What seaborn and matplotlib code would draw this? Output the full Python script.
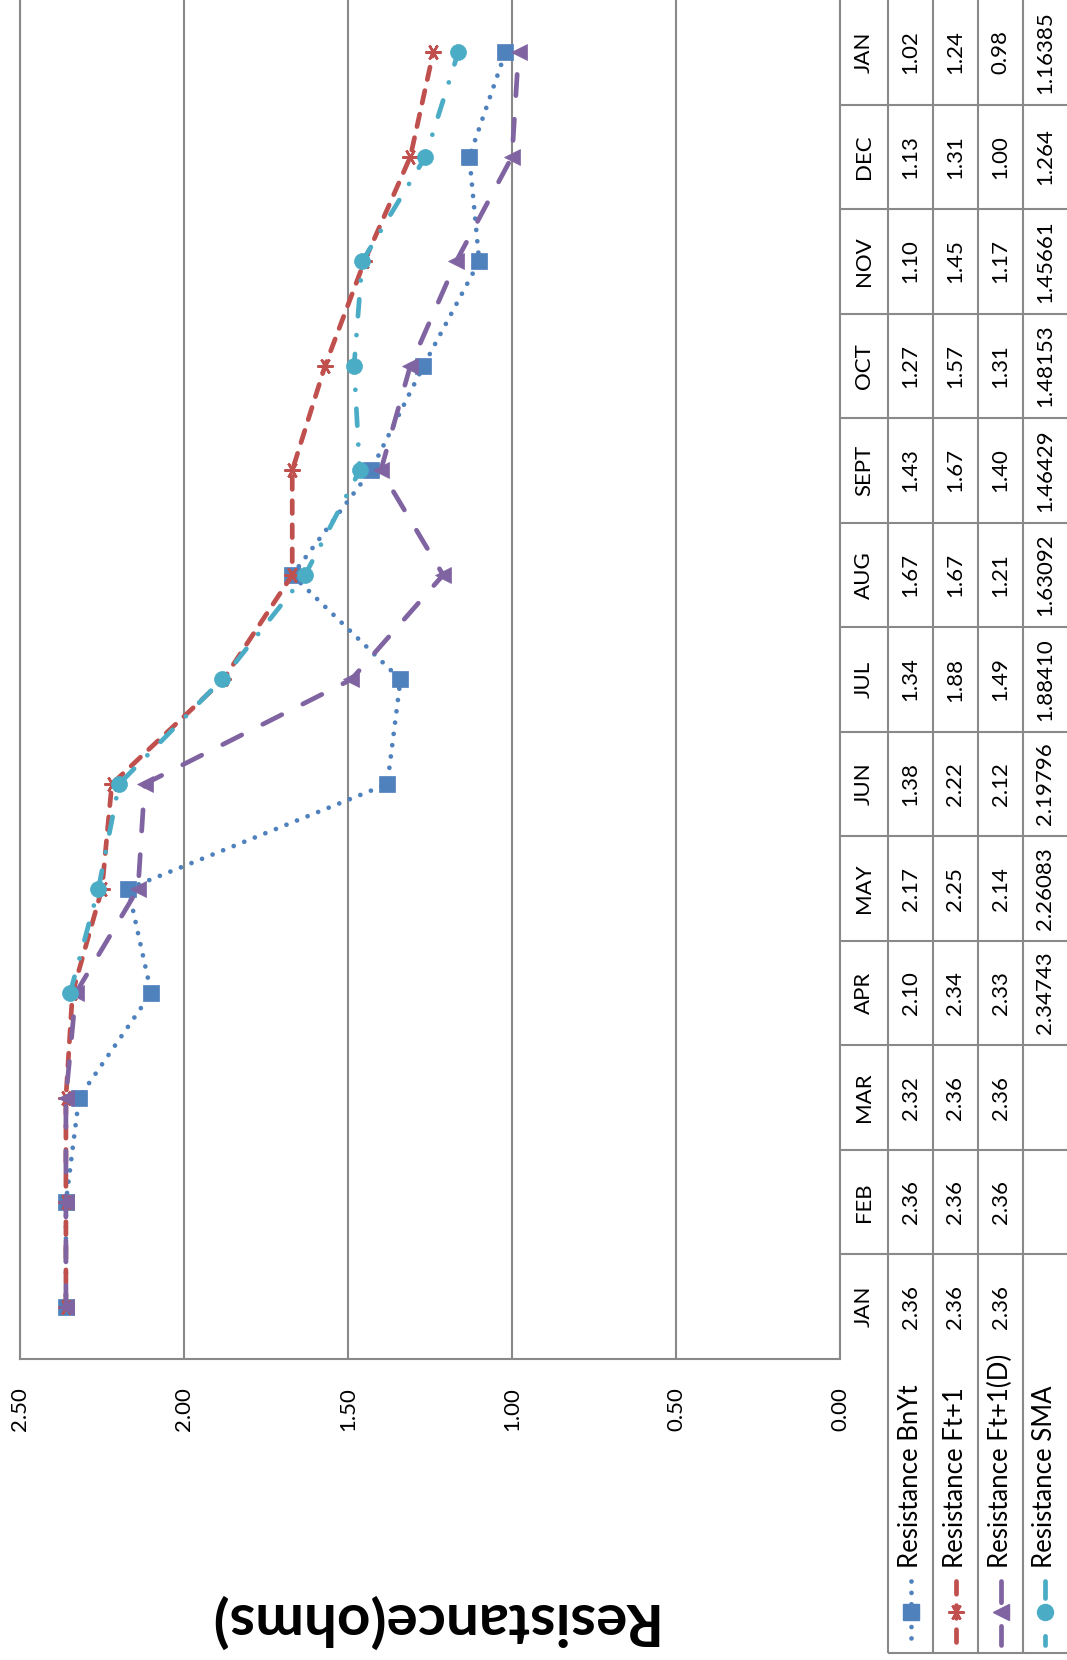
import numpy as np
import pandas as pd
import matplotlib
matplotlib.use("Agg")
import matplotlib.pyplot as plt
import seaborn as sns

# ---- data -------------------------------------------------------------
months = ["JAN", "FEB", "MAR", "APR", "MAY", "JUN", "JUL",
          "AUG", "SEPT", "OCT", "NOV", "DEC", "JAN"]
bnyt = [2.36, 2.36, 2.32, 2.10, 2.17, 1.38, 1.34, 1.67, 1.43, 1.27, 1.10, 1.13, 1.02]
ft1 = [2.36, 2.36, 2.36, 2.34, 2.25, 2.22, 1.88, 1.67, 1.67, 1.57, 1.45, 1.31, 1.24]
ft1d = [2.36, 2.36, 2.36, 2.33, 2.14, 2.12, 1.49, 1.21, 1.40, 1.31, 1.17, 1.00, 0.98]
sma_text = ["", "", "", "2.34743", "2.26083", "2.19796", "1.88410",
            "1.63092", "1.46429", "1.48153", "1.45661", "1.264", "1.16385"]
sma = [float(s) if s else np.nan for s in sma_text]
series_names = ["Resistance BnYt", "Resistance Ft+1",
                "Resistance Ft+1(D)", "Resistance SMA"]
value_ticks = [2.5, 2.0, 1.5, 1.0, 0.5, 0.0]
axis_title = "Resistance(ohms)"

# ---- styling ----------------------------------------------------------
sns.set_theme(style="white")
plt.rcParams["font.family"] = ["Lato", "DejaVu Sans"]

GRID = "#898989"
TXT = 16
KEY_TXT = 18.5
colors = ["#4F81BD", "#C0504D", "#8064A2", "#4BACC6"]
markers = ["s", (6, 2, 90), "<", "o"]
dashes = [(0, (0.01, 2.4)), (0, (2.7, 2.4)), (0, (4.5, 5)), (0, (3.6, 4, 0.01, 4))]
LW = 3.4
MS = 11.5
STAR = (6, 2, 90)

W, H = 1067, 1660
fig = plt.figure(figsize=(W / 100, H / 100), dpi=100)

plot_left, plot_right, plot_bottom = 20, 840, 1359
ax = fig.add_axes([plot_left / W, (H - plot_bottom) / H,
                   (plot_right - plot_left) / W, plot_bottom / H])

pos = np.arange(len(months))
df = pd.DataFrame({"pos": pos, series_names[0]: bnyt, series_names[1]: ft1,
                   series_names[2]: ft1d, series_names[3]: sma})

for name, c, m, ls in zip(series_names, colors, markers, dashes):
    if m == STAR:
        me = dict(markeredgecolor=c, markeredgewidth=1.8)
    else:
        me = dict(markeredgecolor=c, markerfacecolor=c, markeredgewidth=0.5)
    sns.lineplot(data=df, x=name, y="pos", orient="y", sort=False,
                 errorbar=None, ax=ax, color=c, marker=m, markersize=MS,
                 linestyle=ls, linewidth=LW, dash_capstyle="round",
                 solid_capstyle="round", **me)

ax.set_xlim(2.5, 0)
ax.set_ylim(-0.5, len(months) - 0.5)
ax.set_xticks(value_ticks)
ax.set_xticklabels([f"{v:.2f}" for v in value_ticks], rotation=90)
ax.tick_params(axis="x", length=0, pad=20, labelsize=TXT, colors="black")
ax.set_yticks([])
ax.set_ylabel("")
ax.set_xlabel("")
ax.xaxis.grid(True, color=GRID, linewidth=1.5)
ax.yaxis.grid(False)
for side in ["left", "right", "bottom"]:
    ax.spines[side].set_color(GRID)
    ax.spines[side].set_linewidth(1.5)
ax.spines["top"].set_visible(False)

# axis title, upside down beneath the value axis
fig.text((plot_left + plot_right) / 2 / W, 1 - 1620 / H, axis_title,
         rotation=180, ha="center", va="center", fontsize=42,
         fontweight="bold", color="black")

# ---- data table beside the value axis ---------------------------------
tw = W - plot_right
cols = [0, 48, 93, 138, 183, tw]
centers = [(a + b) / 2 for a, b in zip(cols[:-1], cols[1:])]

tb = fig.add_axes([plot_right / W, (H - plot_bottom) / H, tw / W, plot_bottom / H],
                  sharey=ax)
tb.set_xlim(0, tw)
tb.axis("off")
tb.hlines(np.arange(0.5, len(months) - 0.5, 1), 0, tw, color=GRID, lw=1.5)
tb.vlines(cols[1:5], -0.5, len(months) - 0.5, color=GRID, lw=1.5)

columns = [[f"{v:.2f}" for v in bnyt], [f"{v:.2f}" for v in ft1],
           [f"{v:.2f}" for v in ft1d], sma_text]
for i, mth in enumerate(months):
    tb.text(centers[0], i, mth, rotation=90, ha="center", va="center",
            fontsize=TXT, color="black")
    for j, col in enumerate(columns):
        tb.text(centers[j + 1], i, col[i], rotation=90, ha="center",
                va="center", fontsize=TXT, color="black")

# ---- series key below the table ---------------------------------------
kh = H - plot_bottom
lg = fig.add_axes([plot_right / W, 0, tw / W, kh / H])
lg.set_xlim(0, tw)
lg.set_ylim(kh, 0)
lg.axis("off")
lg.vlines(cols[1:5], 0, 294, color=GRID, lw=1.5)
lg.hlines(294, cols[1], tw, color=GRID, lw=1.5)
for j, (name, c, m, ls) in enumerate(zip(series_names, colors, markers, dashes)):
    cx = centers[j + 1]
    lg.text(cx, 209, name, rotation=90, rotation_mode="anchor", ha="left",
            va="center", fontsize=KEY_TXT, color="black")
    lg.plot([cx, cx], [222, 286], color=c, linestyle=ls, lw=LW,
            dash_capstyle="round", solid_capstyle="round")
    if m == STAR:
        lg.plot([cx], [253], marker=m, markersize=MS, color=c,
                markeredgewidth=1.8, linestyle="none")
    else:
        lg.plot([cx], [253], marker=m, markersize=MS, color=c,
                linestyle="none")

fig.savefig("out.png", dpi=100)
